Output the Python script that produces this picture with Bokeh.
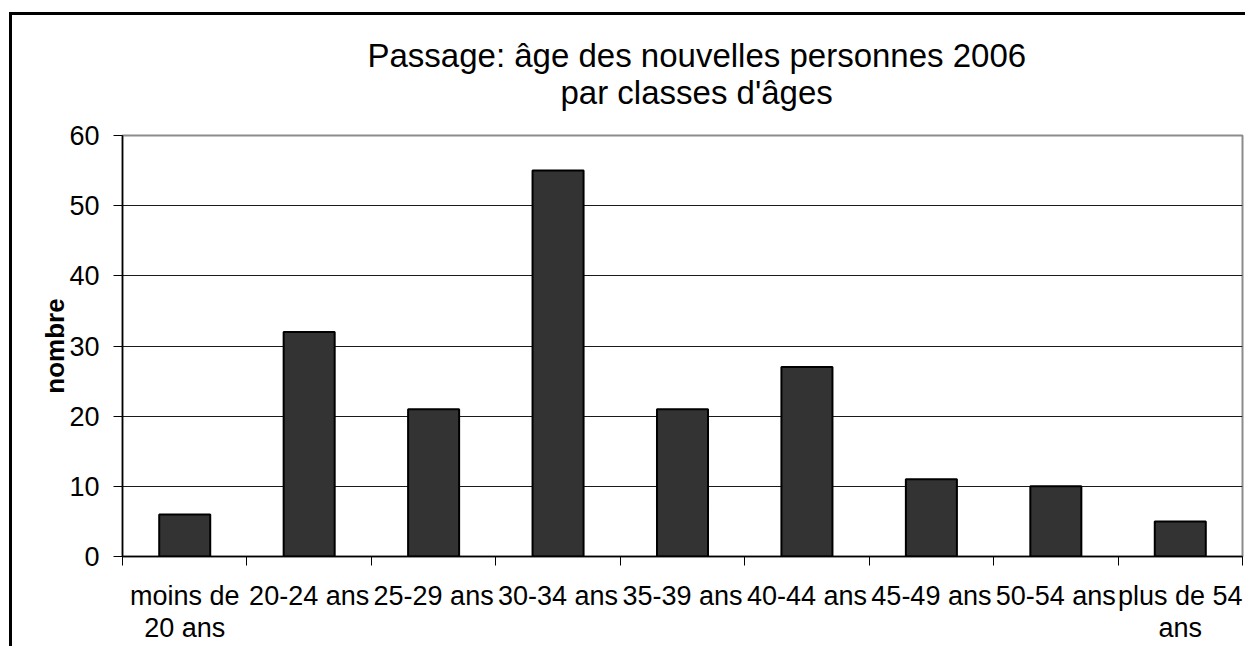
from bokeh.plotting import figure
from bokeh.models import FixedTicker, Title, Range1d
from bokeh.embed import file_html
from bokeh.resources import INLINE

categories = ["moins de\n20 ans", "20-24 ans", "25-29 ans", "30-34 ans", "35-39 ans",
              "40-44 ans", "45-49 ans", "50-54 ans", "plus de 54\nans"]
values = [6, 32, 21, 55, 21, 27, 11, 10, 5]
y_ticks = [0, 10, 20, 30, 40, 50, 60]
grid_ticks = [10, 20, 30, 40, 50]
title_line1 = "Passage: âge des nouvelles personnes 2006"
title_line2 = "par classes d'âges"
y_label = "nombre"

FONT = "Liberation Sans"
n = len(categories)
x_pos = [i + 0.5 for i in range(n)]

p = figure(width=1236, height=634, output_backend="svg", toolbar_location=None,
           x_range=Range1d(0, n), y_range=Range1d(0, 60),
           min_border_left=110, min_border_right=6, min_border_top=120, min_border_bottom=93)

# outer chart border (only top/left visible in the cropped original)
p.styles = {"margin-left": "9px", "margin-top": "12px",
            "border-left": "3px solid black", "border-top": "3px solid black"}

p.vbar(x=x_pos, top=values, width=0.41, fill_color="#333333",
       line_color="black", line_width=2)

# titles (first added is closest to the plot); an empty spacer keeps the gap
spacer = Title(text=" ", text_font_size="1px", standoff=22)
t2 = Title(text=title_line2, align="left", text_font=FONT, text_font_size="33px",
           text_font_style="normal", text_color="black", offset=438, standoff=0)
t1 = Title(text=title_line1, align="left", text_font=FONT, text_font_size="33px",
           text_font_style="normal", text_color="black", offset=245, standoff=-5)
p.add_layout(spacer, "above")
p.add_layout(t2, "above")
p.add_layout(t1, "above")

# frame
p.outline_line_color = "#8c8c8c"
p.outline_line_width = 2
p.background_fill_color = "white"
p.border_fill_color = "white"

# grid
p.xgrid.visible = False
p.ygrid.ticker = FixedTicker(ticks=grid_ticks)
p.ygrid.grid_line_color = "#1a1a1a"
p.ygrid.grid_line_width = 1

# x axis: labels at centres, ticks at boundaries
xa = p.xaxis[0]
xa.ticker = FixedTicker(ticks=x_pos, minor_ticks=list(range(n + 1)))
xa.major_label_overrides = {x: c for x, c in zip(x_pos, categories)}
xa.major_tick_out = 0
xa.major_tick_in = 0
xa.minor_tick_out = 9
xa.minor_tick_in = 0
xa.minor_tick_line_color = "black"
xa.axis_line_color = "black"
xa.axis_line_width = 1.5
xa.major_label_text_font = FONT
xa.major_label_text_font_size = "27px"
xa.major_label_text_color = "black"
xa.major_label_text_line_height = 1.08
xa.major_label_standoff = 15
xa.major_label_text_align = "center"

# y axis
ya = p.yaxis[0]
ya.ticker = FixedTicker(ticks=y_ticks)
ya.major_tick_out = 9
ya.major_tick_in = 0
ya.minor_tick_out = 0
ya.minor_tick_in = 0
ya.major_tick_line_color = "black"
ya.axis_line_color = "black"
ya.axis_line_width = 1.5
ya.major_label_text_font = FONT
ya.major_label_text_font_size = "27px"
ya.major_label_text_color = "black"
ya.major_label_standoff = 14
ya.axis_label = y_label
ya.axis_label_text_font = FONT
ya.axis_label_text_font_size = "26px"
ya.axis_label_text_font_style = "bold"
ya.axis_label_text_color = "black"
ya.axis_label_standoff = -4

open("out.html", "w").write(file_html(p, INLINE))
